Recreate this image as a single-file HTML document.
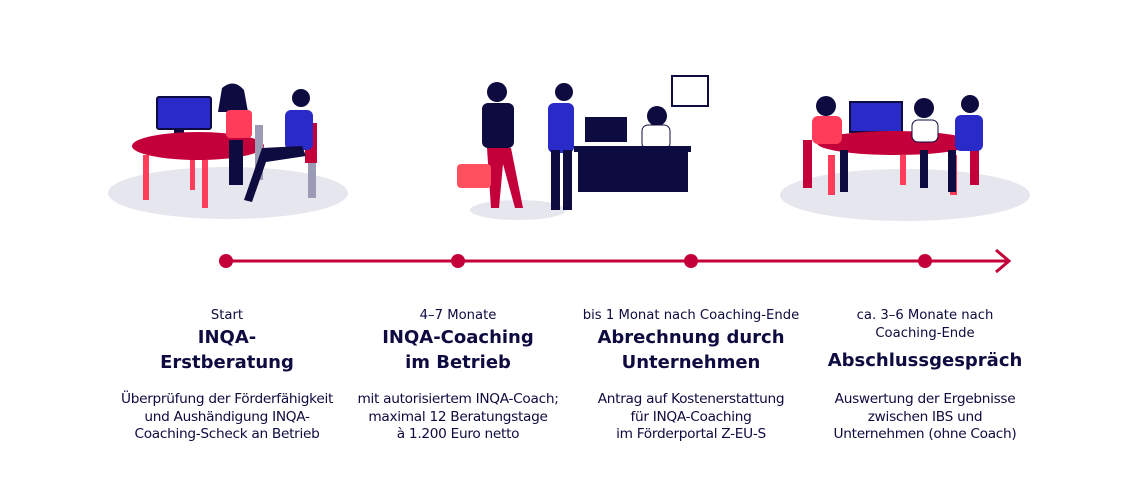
<!DOCTYPE html>
<html><head><meta charset="utf-8"><style>
body{margin:0;width:1132px;height:478px;background:#fff;overflow:hidden;position:relative;font-family:"DejaVu Sans","Liberation Sans",sans-serif;color:#0d0b3f}
.c{position:absolute;width:260px;text-align:center}
.s{font-size:13.2px;font-weight:500;line-height:18px}
.t{font-size:18px;font-weight:bold;line-height:25px}
.d{font-size:13.7px;line-height:17.5px;position:absolute;width:260px;text-align:center;top:391px;letter-spacing:-0.3px}
</style></head><body>
<svg width="1132" height="478" style="position:absolute;left:0;top:0">
<ellipse cx="228" cy="193" rx="120" ry="26" fill="#e6e6ee"/>
<ellipse cx="518" cy="210" rx="48" ry="10" fill="#e6e6ee"/>
<ellipse cx="905" cy="195" rx="125" ry="26" fill="#e6e6ee"/>
<rect x="157" y="97" width="54" height="32" rx="2" fill="#2a2ac8" stroke="#0d0b3f" stroke-width="2"/>
<rect x="174" y="129" width="10" height="8" fill="#0d0b3f"/>
<rect x="143" y="155" width="6" height="45" fill="#ff3d5a"/><rect x="202" y="160" width="6" height="48" fill="#ff3d5a"/><rect x="190" y="160" width="5" height="30" fill="#ff3d5a"/>
<ellipse cx="198" cy="146" rx="66" ry="14" fill="#c4003a"/>
<rect x="255" y="125" width="8" height="55" fill="#9b9bb5"/><rect x="308" y="130" width="8" height="68" fill="#9b9bb5"/>
<rect x="305" y="123" width="12" height="40" fill="#c4003a"/>
<path d="M222 88 q12 -10 22 2 l4 22 h-30z" fill="#0d0b3f"/>
<rect x="226" y="110" width="26" height="28" rx="4" fill="#ff3d5a"/>
<rect x="229" y="140" width="14" height="45" fill="#0d0b3f"/>
<circle cx="301" cy="98" r="9" fill="#0d0b3f"/>
<rect x="285" y="110" width="28" height="40" rx="6" fill="#2a2ac8"/>
<path d="M262 148 l40 -2 l4 10 l-40 6 l-14 40 l-8 -2z" fill="#0d0b3f"/>
<rect x="672" y="76" width="36" height="30" fill="#fff" stroke="#0d0b3f" stroke-width="2"/>
<rect x="585" y="117" width="42" height="25" fill="#0d0b3f"/>
<circle cx="657" cy="116" r="10" fill="#0d0b3f"/><rect x="642" y="125" width="28" height="24" rx="6" fill="#fff" stroke="#0d0b3f"/>
<rect x="574" y="146" width="117" height="6" fill="#0d0b3f"/>
<rect x="578" y="152" width="110" height="40" fill="#0d0b3f"/>
<circle cx="497" cy="92" r="10" fill="#0d0b3f"/>
<rect x="482" y="103" width="32" height="45" rx="6" fill="#0d0b3f"/>
<path d="M487 148 h24 l12 60 h-8 l-12 -44 l-4 44 h-8z" fill="#c4003a"/>
<rect x="457" y="164" width="34" height="24" rx="4" fill="#ff5060"/>
<circle cx="564" cy="92" r="9" fill="#0d0b3f"/>
<rect x="548" y="103" width="26" height="50" rx="6" fill="#2a2ac8"/>
<rect x="551" y="150" width="9" height="60" fill="#0d0b3f"/><rect x="563" y="150" width="9" height="60" fill="#0d0b3f"/>
<rect x="850" y="102" width="52" height="30" fill="#2a2ac8" stroke="#0d0b3f" stroke-width="2"/>
<rect x="870" y="132" width="10" height="8" fill="#0d0b3f"/>
<rect x="803" y="140" width="9" height="48" fill="#c4003a"/><rect x="970" y="135" width="9" height="50" fill="#c4003a"/>
<ellipse cx="895" cy="143" rx="78" ry="12" fill="#c4003a"/>
<rect x="828" y="155" width="7" height="40" fill="#ff3d5a"/><rect x="950" y="155" width="7" height="40" fill="#ff3d5a"/><rect x="900" y="155" width="6" height="30" fill="#ff3d5a"/>
<circle cx="826" cy="106" r="10" fill="#0d0b3f"/><rect x="812" y="116" width="30" height="28" rx="6" fill="#ff3d5a"/>
<circle cx="924" cy="108" r="10" fill="#0d0b3f"/><rect x="912" y="120" width="26" height="22" rx="6" fill="#fff" stroke="#0d0b3f"/>
<circle cx="970" cy="104" r="9" fill="#0d0b3f"/><rect x="955" y="115" width="28" height="36" rx="6" fill="#2a2ac8"/>
<rect x="840" y="150" width="8" height="42" fill="#0d0b3f"/><rect x="920" y="150" width="8" height="38" fill="#0d0b3f"/><rect x="948" y="150" width="8" height="42" fill="#0d0b3f"/>
<line x1="226" y1="261" x2="1008" y2="261" stroke="#c4003a" stroke-width="3"/>
<path d="M996 250 L1009 261 L996 272" fill="none" stroke="#c4003a" stroke-width="3"/>
<circle cx="226" cy="261" r="7" fill="#c4003a"/><circle cx="458" cy="261" r="7" fill="#c4003a"/>
<circle cx="691" cy="261" r="7" fill="#c4003a"/><circle cx="925" cy="261" r="7" fill="#c4003a"/>
</svg>
<div class="c" style="left:97px;top:307px"><div class="s">Start</div><div class="t">INQA-<br>Erstberatung</div></div>
<div class="c" style="left:328px;top:307px"><div class="s">4–7 Monate</div><div class="t">INQA-Coaching<br>im Betrieb</div></div>
<div class="c" style="left:561px;top:307px"><div class="s">bis 1 Monat nach Coaching-Ende</div><div class="t">Abrechnung durch<br>Unternehmen</div></div>
<div class="c" style="left:795px;top:307px"><div class="s">ca. 3–6 Monate nach<br>Coaching-Ende</div><div class="t" style="margin-top:5px">Abschlussgespräch</div></div>
<div class="d" style="left:97px">Überprüfung der Förderfähigkeit<br>und Aushändigung INQA-<br>Coaching-Scheck an Betrieb</div>
<div class="d" style="left:328px">mit autorisiertem INQA-Coach;<br>maximal 12 Beratungstage<br>à 1.200 Euro netto</div>
<div class="d" style="left:561px">Antrag auf Kostenerstattung<br>für INQA-Coaching<br>im Förderportal Z-EU-S</div>
<div class="d" style="left:795px">Auswertung der Ergebnisse<br>zwischen IBS und<br>Unternehmen (ohne Coach)</div>
</body></html>
